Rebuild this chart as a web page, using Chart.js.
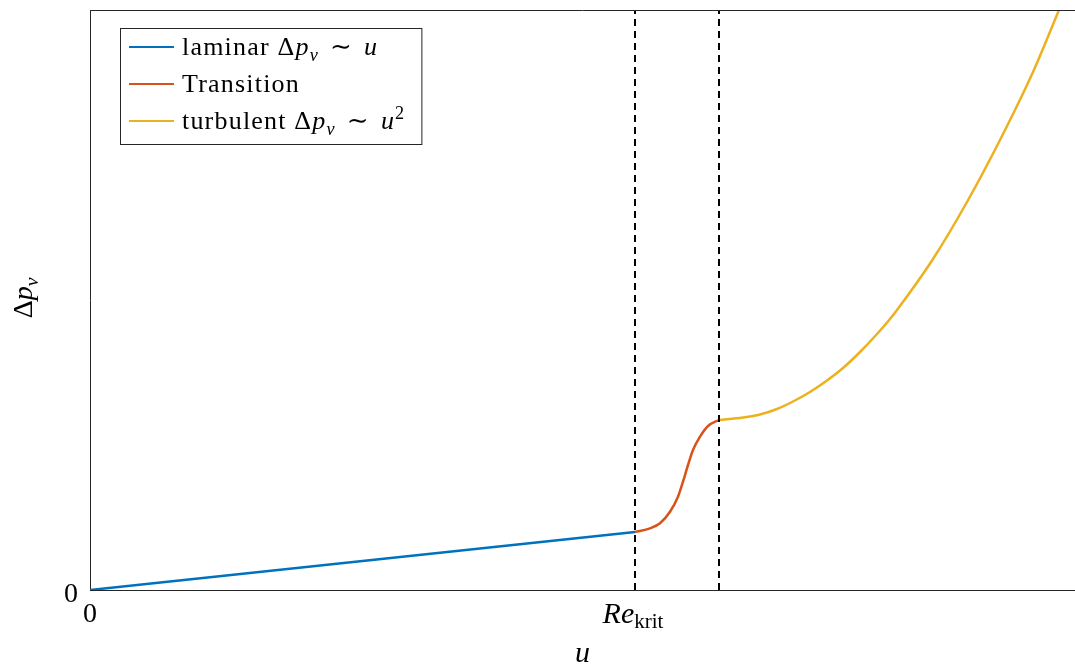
<!DOCTYPE html>
<html>
<head>
<meta charset="utf-8">
<script src="https://cdn.jsdelivr.net/npm/chart.js@4.4.0/dist/chart.umd.min.js"></script>
<style>
  html, body { margin: 0; padding: 0; background: #fff; }
</style>
</head>
<body>
<canvas id="chart" width="1075" height="666"></canvas>
<script>
// --- Data (u on x, Δp_v on y, arbitrary units) ---
const laminarU = [0, 545];
const laminarDp = [0, 58];
const transitionU = [545, 560, 570, 580, 588, 593, 598, 603, 610, 618, 629];
const transitionDp = [58, 61.7, 66.7, 78.3, 93.3, 108.3, 125, 140, 153.3, 164, 170];
const turbulentU = [629, 653, 670, 687, 703, 720, 737, 753, 770, 787, 800, 810, 843, 877, 910, 943, 969];
const turbulentDp = [170, 172.5, 175.5, 181, 188.5, 198, 209.5, 222, 238, 256, 271, 284, 331, 388, 450, 518, 580];

const reKrit = 545;        // start of transition
const transitionEnd = 629; // end of transition
const uMax = 985;
const dpMax = 580;

const xTickLabels = ['0', 'Re_krit'];
const yTickLabels = ['0'];

const seriesNames = ['laminar Δp_v ∼ u', 'Transition', 'turbulent Δp_v ∼ u²'];
// same labels split into pieces for rich text: n = normal, i = italic, sub / sup
const legendText = [
    [['laminar ', 'n'], ['Δ', 'n'], ['p', 'i'], ['v', 'sub'], [' \u200a∼\u200a ', 'n'], ['u', 'i']],
    [['Transition', 'n']],
    [['turbulent ', 'n'], ['Δ', 'n'], ['p', 'i'], ['v', 'sub'], [' \u200a∼\u200a ', 'n'], ['u', 'i'], ['2', 'sup']]
];

const colors = ['#0072BD', '#D95319', '#EDB120'];
const axisColor = '#262626';
const serif = "'Liberation Serif', 'DejaVu Serif', serif";

const toPoints = (xs, ys) => xs.map((x, i) => ({ x, y: ys[i] }));

// draws a list of [text, mode] pieces, returns total width
function drawRich(ctx, segs, x, y, size, measureOnly) {
    let cx = x;
    segs.forEach(([t, mode]) => {
        let fs = size, dy = 0, style = '';
        if (mode === 'i') style = 'italic ';
        if (mode === 'sub') { fs = size * 0.7; dy = size * 0.22; style = 'italic '; }
        if (mode === 'subn') { fs = size * 0.7; dy = size * 0.15; }
        if (mode === 'sup') { fs = size * 0.7; dy = -size * 0.4; }
        ctx.font = `${style}${fs}px ${serif}`;
        if (!measureOnly) ctx.fillText(t, cx, y + dy);
        cx += ctx.measureText(t).width;
    });
    return cx - x;
}

const overlay = {
    id: 'overlay',
    afterDraw(chart) {
        const { ctx, chartArea: a, scales } = chart;
        ctx.save();
        ctx.fillStyle = '#000';
        ctx.textAlign = 'left';
        ctx.textBaseline = 'alphabetic';

        // top frame line
        ctx.strokeStyle = axisColor;
        ctx.lineWidth = 1;
        ctx.beginPath();
        ctx.moveTo(a.left, a.top + 0.5);
        ctx.lineTo(a.right, a.top + 0.5);
        ctx.stroke();

        // x tick labels
        const x0 = scales.x.getPixelForValue(0);
        ctx.font = `28px ${serif}`;
        ctx.textAlign = 'center';
        ctx.fillText(xTickLabels[0], x0, a.bottom + 32);
        ctx.textAlign = 'left';
        const reSegs = [['Re', 'i'], ['krit', 'subn']];
        const xk = scales.x.getPixelForValue(reKrit);
        const wk = drawRich(ctx, reSegs, 0, 0, 30, true);
        drawRich(ctx, reSegs, xk - wk / 2 - 2, a.bottom + 33, 30);

        // y tick label
        ctx.font = `28px ${serif}`;
        ctx.textAlign = 'right';
        ctx.fillText(yTickLabels[0], a.left - 12, scales.y.getPixelForValue(0) + 12);

        // x title
        ctx.font = `italic 30px ${serif}`;
        ctx.textAlign = 'center';
        ctx.fillText('u', (a.left + a.right) / 2, a.bottom + 72);
        ctx.textAlign = 'left';

        // y title, rotated
        const ySegs = [['Δ', 'n'], ['p', 'i'], ['v', 'sub']];
        const wy = drawRich(ctx, ySegs, 0, 0, 28, true);
        ctx.save();
        ctx.translate(a.left - 58, (a.top + a.bottom) / 2 - 2);
        ctx.rotate(-Math.PI / 2);
        drawRich(ctx, ySegs, -wy / 2, 0, 28);
        ctx.restore();

        // legend box
        const lx = a.left + 30, ly = a.top + 18;
        const rowH = 37;
        ctx.letterSpacing = '1.2px';
        const widths = legendText.map(s => drawRich(ctx, s, 0, 0, 26, true));
        const boxW = 62 + Math.max(...widths) + 16;
        const boxH = rowH * legendText.length + 5;
        ctx.fillStyle = '#fff';
        ctx.fillRect(lx, ly, boxW, boxH);
        ctx.strokeStyle = axisColor;
        ctx.strokeRect(lx + 0.5, ly + 0.5, boxW, boxH);
        legendText.forEach((segs, i) => {
            const cy = ly + 19 + i * rowH;
            ctx.strokeStyle = colors[i];
            ctx.lineWidth = 2;
            ctx.beginPath();
            ctx.moveTo(lx + 9, cy);
            ctx.lineTo(lx + 54, cy);
            ctx.stroke();
            ctx.fillStyle = '#000';
            drawRich(ctx, segs, lx + 62, cy + 8, 26);
        });
        ctx.restore();
    }
};

const curve = (i, xs, ys) => ({
    label: seriesNames[i],
    data: toPoints(xs, ys),
    borderColor: colors[i],
    borderWidth: 2.5,
    pointRadius: 0,
    cubicInterpolationMode: 'monotone',
    order: 1
});

const dashed = (u) => ({
    label: 'marker',
    data: [{ x: u, y: 0 }, { x: u, y: dpMax }],
    borderColor: '#000',
    borderWidth: 2,
    borderDash: [7, 5],
    pointRadius: 0,
    order: 0
});

new Chart(document.getElementById('chart'), {
    type: 'line',
    data: {
        datasets: [
            curve(0, laminarU, laminarDp),
            curve(1, transitionU, transitionDp),
            curve(2, turbulentU, turbulentDp),
            dashed(reKrit),
            dashed(transitionEnd)
        ]
    },
    options: {
        responsive: false,
        animation: false,
        layout: { padding: { left: 90, top: 10, right: 0, bottom: 76 } },
        plugins: { legend: { display: false }, tooltip: { enabled: false } },
        scales: {
            x: {
                type: 'linear',
                min: 0,
                max: uMax,
                grid: { display: false, drawTicks: false },
                border: { display: true, color: axisColor, width: 1 },
                ticks: { display: false }
            },
            y: {
                type: 'linear',
                min: 0,
                max: dpMax,
                grid: { display: false, drawTicks: false },
                border: { display: true, color: axisColor, width: 1 },
                ticks: { display: false }
            }
        }
    },
    plugins: [overlay]
});
</script>
</body>
</html>
